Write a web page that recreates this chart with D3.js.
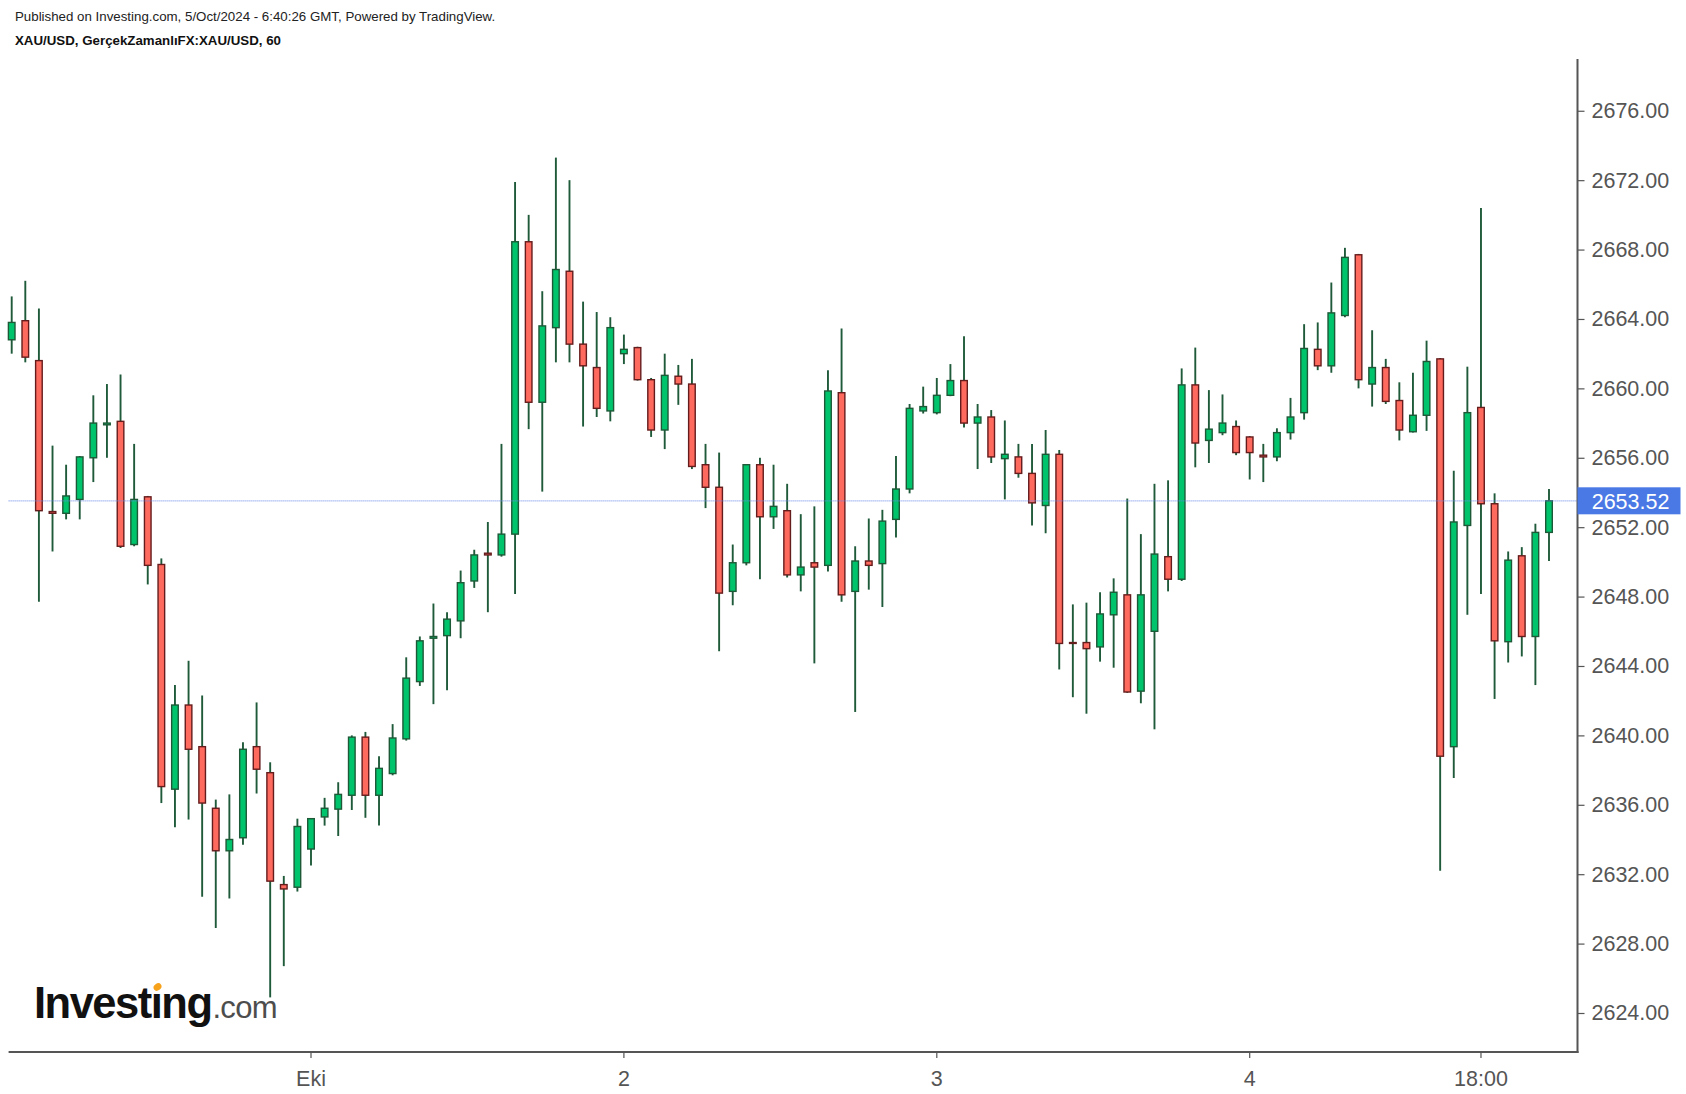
<!DOCTYPE html>
<html><head><meta charset="utf-8">
<script src="https://cdn.jsdelivr.net/npm/d3@7"></script>
<style>body{margin:0;background:#fff;} svg{display:block;}</style>
</head><body>
<svg id="chart" width="1686" height="1094"></svg>
<script>
// ---- DATA ----
const times = [
"09-30 02:00","09-30 03:00","09-30 04:00","09-30 05:00","09-30 06:00","09-30 07:00","09-30 08:00","09-30 09:00","09-30 10:00","09-30 11:00","09-30 12:00",
"09-30 13:00","09-30 14:00","09-30 15:00","09-30 16:00","09-30 17:00","09-30 18:00","09-30 19:00","09-30 20:00","09-30 21:00","09-30 22:00","09-30 23:00",
"10-01 01:00","10-01 02:00","10-01 03:00","10-01 04:00","10-01 05:00","10-01 06:00","10-01 07:00","10-01 08:00","10-01 09:00","10-01 10:00","10-01 11:00","10-01 12:00",
"10-01 13:00","10-01 14:00","10-01 15:00","10-01 16:00","10-01 17:00","10-01 18:00","10-01 19:00","10-01 20:00","10-01 21:00","10-01 22:00","10-01 23:00",
"10-02 01:00","10-02 02:00","10-02 03:00","10-02 04:00","10-02 05:00","10-02 06:00","10-02 07:00","10-02 08:00","10-02 09:00","10-02 10:00","10-02 11:00","10-02 12:00",
"10-02 13:00","10-02 14:00","10-02 15:00","10-02 16:00","10-02 17:00","10-02 18:00","10-02 19:00","10-02 20:00","10-02 21:00","10-02 22:00","10-02 23:00",
"10-03 01:00","10-03 02:00","10-03 03:00","10-03 04:00","10-03 05:00","10-03 06:00","10-03 07:00","10-03 08:00","10-03 09:00","10-03 10:00","10-03 11:00","10-03 12:00",
"10-03 13:00","10-03 14:00","10-03 15:00","10-03 16:00","10-03 17:00","10-03 18:00","10-03 19:00","10-03 20:00","10-03 21:00","10-03 22:00","10-03 23:00",
"10-04 01:00","10-04 02:00","10-04 03:00","10-04 04:00","10-04 05:00","10-04 06:00","10-04 07:00","10-04 08:00","10-04 09:00","10-04 10:00","10-04 11:00","10-04 12:00",
"10-04 13:00","10-04 14:00","10-04 15:00","10-04 16:00","10-04 17:00","10-04 18:00","10-04 19:00","10-04 20:00","10-04 21:00","10-04 22:00","10-04 23:00"
];
const open = [
2662.8,2663.9,2661.6,2652.9,2652.8,2653.6,2656.0,2657.9,2658.1,2651.0,2653.75,2649.85,2636.9,2641.75,2639.35,2635.8,2633.35,2634.1,2639.35,2637.85,2631.4,2631.25,
2633.45,2635.3,2635.75,2636.55,2639.9,2636.55,2637.8,2639.8,2643.1,2645.6,2645.75,2646.6,2648.9,2650.5,2650.4,2651.6,2668.45,2659.2,2663.5,2666.75,2662.55,2661.2,2658.7,
2662.0,2662.35,2660.5,2657.6,2660.7,2660.25,2655.6,2654.3,2648.3,2649.95,2655.6,2652.6,2652.95,2649.25,2649.95,2649.8,2659.75,2648.3,2650.05,2649.9,2652.45,2654.2,2658.7,
2658.6,2659.6,2660.45,2658.0,2658.35,2655.95,2656.05,2655.1,2653.25,2656.2,2645.35,2645.35,2645.1,2646.95,2648.1,2642.55,2646.0,2650.3,2649.0,2660.2,2657.0,2657.45,2657.8,
2657.2,2656.15,2656.05,2657.45,2658.6,2662.25,2661.3,2664.2,2667.7,2660.25,2661.2,2659.3,2657.5,2658.45,2661.7,2639.35,2652.1,2658.9,2653.35,2645.4,2650.35,2645.7,2651.7
];
const high = [
2665.3,2666.2,2664.6,2656.7,2655.6,2656.1,2659.6,2660.25,2660.8,2656.8,2653.8,2650.2,2642.9,2644.3,2642.3,2636.3,2636.6,2639.6,2641.9,2638.45,2631.9,2635.2,
2635.2,2636.4,2637.3,2640.0,2640.2,2638.8,2640.65,2644.5,2645.7,2647.6,2647.1,2649.5,2650.7,2652.3,2656.8,2671.9,2670.0,2665.6,2673.3,2672.0,2665.0,2664.4,2664.1,
2663.1,2662.4,2660.6,2662.0,2661.35,2661.7,2656.8,2656.3,2651.0,2655.6,2656.0,2655.6,2654.5,2652.75,2653.2,2661.05,2663.45,2650.9,2652.5,2653.0,2656.1,2659.1,2660.1,
2660.6,2661.4,2663.0,2659.1,2658.75,2658.15,2656.8,2656.8,2657.6,2656.45,2647.55,2647.65,2648.25,2649.05,2653.65,2651.6,2654.5,2654.7,2661.15,2662.35,2659.9,2659.65,2658.15,
2657.25,2656.8,2657.7,2659.45,2663.7,2663.8,2666.1,2668.1,2667.75,2663.35,2661.7,2660.35,2660.9,2662.75,2661.75,2655.25,2661.25,2670.4,2653.95,2650.6,2650.85,2652.2,2654.2
];
const low = [
2662.0,2661.5,2647.7,2650.6,2652.45,2652.45,2654.6,2656.0,2650.8,2650.9,2648.7,2636.1,2634.7,2635.15,2630.7,2628.9,2630.6,2633.7,2636.65,2624.9,2626.7,2631.0,
2632.5,2634.8,2634.2,2635.7,2635.25,2634.8,2637.7,2639.7,2642.85,2641.8,2642.6,2645.6,2648.5,2647.1,2650.3,2648.15,2657.65,2654.05,2661.5,2661.5,2657.8,2658.35,2658.1,
2661.4,2660.45,2657.2,2656.5,2659.05,2655.35,2653.1,2644.85,2647.5,2649.8,2649.0,2651.9,2649.1,2648.3,2644.15,2649.45,2647.7,2641.35,2648.4,2647.4,2651.4,2653.95,2658.55,
2658.5,2659.55,2657.75,2655.35,2655.7,2653.6,2654.85,2652.1,2651.65,2643.8,2642.2,2641.25,2644.25,2643.9,2642.45,2641.85,2640.35,2648.3,2648.9,2655.45,2655.7,2657.3,2656.15,
2654.75,2654.6,2655.8,2657.05,2658.2,2661.05,2660.9,2664.1,2660.0,2658.95,2659.1,2657.0,2657.45,2657.55,2632.2,2637.55,2646.95,2648.15,2642.1,2644.2,2644.55,2642.9,2650.05
];
const close = [
2663.8,2661.8,2652.95,2652.8,2653.8,2656.05,2658.0,2658.0,2650.9,2653.6,2649.8,2637.05,2641.75,2639.2,2636.1,2633.35,2634.0,2639.2,2638.05,2631.6,2631.15,2634.75,
2635.2,2635.8,2636.6,2639.9,2636.55,2638.1,2639.85,2643.3,2645.45,2645.7,2646.7,2648.8,2650.4,2650.4,2651.6,2668.45,2659.2,2663.6,2666.85,2662.55,2661.3,2658.85,2663.5,
2662.25,2660.5,2657.6,2660.75,2660.25,2655.5,2654.3,2648.2,2649.95,2655.6,2652.6,2653.2,2649.25,2649.7,2649.7,2659.85,2648.1,2650.05,2649.8,2652.35,2654.2,2658.85,2658.95,
2659.6,2660.45,2658.0,2658.35,2656.05,2656.2,2655.1,2653.4,2656.2,2645.3,2645.3,2645.0,2647.0,2648.25,2642.5,2648.1,2650.45,2649.0,2660.2,2656.85,2657.65,2658.0,2656.3,
2656.3,2656.05,2657.45,2658.35,2662.3,2661.3,2664.35,2667.55,2660.5,2661.2,2659.25,2657.6,2658.45,2661.55,2638.8,2652.3,2658.6,2653.35,2645.45,2650.1,2645.7,2651.7,2653.52
];
const yTicks = [2624,2628,2632,2636,2640,2644,2648,2652,2656,2660,2664,2668,2672,2676];
const xTickTimes = ["10-01 01:00","10-02 01:00","10-03 01:00","10-04 01:00","10-04 18:00"];
const xTickLabels = ["Eki","2","3","4","18:00"];
const lastPrice = 2653.52;
const headerLine1 = "Published on Investing.com, 5/Oct/2024 - 6:40:26 GMT, Powered by TradingView.";
const headerLine2 = "XAU/USD, GerçekZamanlıFX:XAU/USD, 60";

// ---- LAYOUT ----
const svg = d3.select("#chart");
const axisX = 1577.5, axisTop = 59, axisBottom = 1052, plotLeft = 8.6;
const x = d3.scaleBand().domain(times).range([4.9, 1555.8]).padding(0);
const y = d3.scaleLinear().domain([2624, 2676]).range([1013.0, 110.76]);
const FONT = "'Liberation Sans', Arial, sans-serif";

const UP_FILL = "#00c46c", UP_LINE = "#1d5937", DN_FILL = "#ff6a5f", DN_LINE = "#651c1c", WICK = "#1f5a3a";

const data = times.map((t, i) => ({t, o: open[i], h: high[i], l: low[i], c: close[i]}));

// header
svg.append("text").attr("x", 15).attr("y", 21).attr("font-family", FONT).attr("font-size", 13.3)
  .attr("fill", "#222").text(headerLine1);
svg.append("text").attr("x", 15).attr("y", 44.5).attr("font-family", FONT).attr("font-size", 13.3)
  .attr("font-weight", "bold").attr("fill", "#111").text(headerLine2);

// candles
const g = svg.append("g");
const cx = d => x(d.t) + x.bandwidth() / 2;
g.selectAll("line.wick").data(data).join("line").attr("class", "wick")
  .attr("x1", cx).attr("x2", cx).attr("y1", d => y(d.h)).attr("y2", d => y(d.l))
  .attr("stroke", WICK).attr("stroke-width", 1.9);
const bw = 6.6;
g.selectAll("rect.body").data(data).join("rect").attr("class", "body")
  .attr("x", d => cx(d) - bw / 2).attr("width", bw)
  .attr("y", d => y(Math.max(d.o, d.c)))
  .attr("height", d => Math.max(Math.abs(y(d.o) - y(d.c)), 0.4))
  .attr("fill", d => d.c >= d.o ? UP_FILL : DN_FILL)
  .attr("stroke", d => d.c >= d.o ? UP_LINE : DN_LINE)
  .attr("stroke-width", 1.4);

// current price line
svg.append("line").attr("x1", plotLeft).attr("x2", axisX).attr("y1", y(lastPrice)).attr("y2", y(lastPrice))
  .attr("stroke", "#6a8ae8").attr("stroke-width", 1.3).attr("stroke-dasharray", "1,1").attr("opacity", 0.85);

// y axis
const yAxis = d3.axisRight(y).tickValues(yTicks).tickSize(7).tickPadding(7).tickFormat(d3.format(".2f"));
const ya = svg.append("g").attr("transform", `translate(${axisX},0)`).call(yAxis);
ya.select(".domain").remove();
ya.selectAll(".tick line").attr("stroke", "#555").attr("stroke-width", 1.2);
ya.selectAll(".tick text").attr("font-family", FONT).attr("font-size", 21.5).attr("fill", "#555");

// x axis
const xAxis = d3.axisBottom(x).tickValues(xTickTimes).tickSize(6).tickPadding(13)
  .tickFormat(t => xTickLabels[xTickTimes.indexOf(t)]);
const xa = svg.append("g").attr("transform", `translate(0,${axisBottom})`).call(xAxis);
xa.select(".domain").remove();
xa.selectAll(".tick line").attr("stroke", "#555").attr("stroke-width", 1.2);
xa.selectAll(".tick text").attr("font-family", FONT).attr("font-size", 21.5).attr("fill", "#555");

// axis lines
svg.append("line").attr("x1", axisX).attr("x2", axisX).attr("y1", axisTop).attr("y2", axisBottom + 1)
  .attr("stroke", "#555").attr("stroke-width", 2);
svg.append("line").attr("x1", plotLeft).attr("x2", axisX + 1).attr("y1", axisBottom).attr("y2", axisBottom)
  .attr("stroke", "#555").attr("stroke-width", 2);

// last price label
const py = y(lastPrice);
svg.append("rect").attr("x", axisX).attr("y", py - 13.5).attr("width", 103).attr("height", 27).attr("fill", "#4a79e6");
svg.append("text").attr("x", 1591.7).attr("y", py).attr("dy", "0.36em").attr("font-family", FONT)
  .attr("font-size", 21.5).attr("fill", "#fff").text(d3.format(".2f")(lastPrice));

// logo (single text element with two tspans)
const logo = svg.append("g");
const lt = logo.append("text").attr("x", 34).attr("y", 1018).attr("font-family", FONT);
lt.append("tspan").attr("font-weight", "bold").attr("font-size", 43.5).attr("letter-spacing", -1.5)
  .attr("fill", "#111").text("Investıng");
lt.append("tspan").attr("font-size", 31).attr("letter-spacing", -0.7).attr("fill", "#4d4d4d").attr("dx", 1).text(".com");
let dotX = 158;
try { const ex = lt.node().getExtentOfChar(6); dotX = ex.x + ex.width / 2 + 1.5; } catch (e) {}
logo.append("ellipse").attr("cx", dotX).attr("cy", 987).attr("rx", 4.2).attr("ry", 3.4)
  .attr("transform", `rotate(-35,${dotX},987)`).attr("fill", "#f6a21b");
</script>
</body></html>
